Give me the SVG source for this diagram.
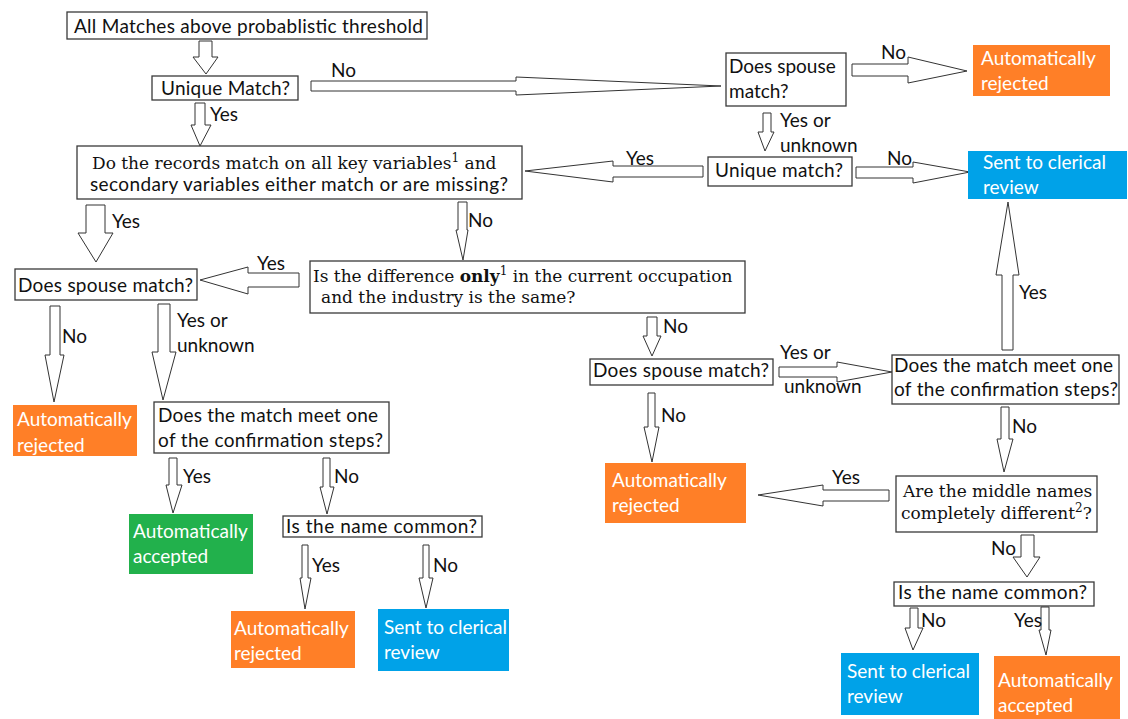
<svg xmlns="http://www.w3.org/2000/svg" width="1128" height="719" viewBox="0 0 1128 719">
<style>
.box{fill:#fff;stroke:#3a3a3a;stroke-width:1.3}
.or{fill:#FF7F27}
.gr{fill:#22B14C}
.bl{fill:#00A2E8}
.t{font-family:Lato,"Liberation Sans",sans-serif;font-size:19px;fill:#111}
.w{font-family:Lato,"Liberation Sans",sans-serif;font-size:19px;fill:#fff}
.s{font-family:"DejaVu Serif",serif;font-size:17px;fill:#111}
.ar{fill:#fff;stroke:#333;stroke-width:1;stroke-linejoin:miter}
.sup{font-size:12px}
</style>
<rect width="1128" height="719" fill="#fff"/>
<g id="connectors">
<polygon class="ar" points="199,41 212,41 212,57 218,57 206,74 193,57 199,57"/>
<polygon class="ar" points="311,81 516,81 516,77 721,86 516,95 516,91 311,91"/>
<polygon class="ar" points="195,103 205,103 205,125 211,125 200,146 191,125 195,125"/>
<polygon class="ar" points="852,64 908,64 908,57 967,71 908,83 908,76 852,76"/>
<polygon class="ar" points="763,113 771,113 771,132 774,132 765,151 758,132 763,132"/>
<polygon class="ar" points="856,167 913,167 913,162 970,172 913,183 913,178 856,178"/>
<polygon class="ar" points="703,166 613,166 613,161 525,171 613,182 613,177 703,177"/>
<polygon class="ar" points="86,205 105,205 105,233 113,233 96,262 78,233 86,233"/>
<polygon class="ar" points="458,202 467,202 467,230 468,230 463,260 456,230 458,230"/>
<polygon class="ar" points="299,273 248,273 248,267 200,280 248,294 248,287 299,287"/>
<polygon class="ar" points="50,306 60,306 60,355 64,355 54,402 45,355 50,355"/>
<polygon class="ar" points="158,304 170,304 170,352 176,352 163,400 152,352 158,352"/>
<polygon class="ar" points="169,458 177,458 177,485 182,485 173,513 166,485 169,485"/>
<polygon class="ar" points="323,458 330,458 330,487 334,487 327,514 320,487 323,487"/>
<polygon class="ar" points="302,545 308,545 308,578 311,578 305,609 300,578 302,578"/>
<polygon class="ar" points="423,545 429,545 429,578 433,578 426,608 419,578 423,578"/>
<polygon class="ar" points="647,317 657,317 657,336 661,336 652,356 643,336 647,336"/>
<polygon class="ar" points="779,367 837,367 837,362 892,372 837,382 837,377 779,377"/>
<polygon class="ar" points="648,393 655,393 655,427 659,427 652,462 644,427 648,427"/>
<polygon class="ar" points="1002,350 1013,350 1013,275 1019,275 1008,202 996,275 1002,275"/>
<polygon class="ar" points="1001,407 1009,407 1009,439 1013,439 1004,472 997,439 1001,439"/>
<polygon class="ar" points="889,490 823,490 823,485 758,495 823,506 823,501 889,501"/>
<polygon class="ar" points="1021,535 1034,535 1034,557 1040,557 1027,577 1013,557 1021,557"/>
<polygon class="ar" points="910,608 918,608 918,628 923,628 913,650 905,628 910,628"/>
<polygon class="ar" points="1041,607 1049,607 1049,630 1051,630 1046,655 1039,630 1041,630"/>
<text class="t" x="331" y="77">No</text>
<text class="t" x="210" y="121">Yes</text>
<text class="t" x="881" y="59">No</text>
<text class="t" x="780" y="127">Yes or</text>
<text class="t" x="780" y="152">unknown</text>
<text class="t" x="887" y="165">No</text>
<text class="t" x="626" y="165">Yes</text>
<text class="t" x="112" y="228">Yes</text>
<text class="t" x="468" y="227">No</text>
<text class="t" x="257" y="270">Yes</text>
<text class="t" x="62" y="343">No</text>
<text class="t" x="177" y="327">Yes or</text>
<text class="t" x="177" y="352">unknown</text>
<text class="t" x="183" y="483">Yes</text>
<text class="t" x="334" y="483">No</text>
<text class="t" x="312" y="572">Yes</text>
<text class="t" x="433" y="572">No</text>
<text class="t" x="663" y="333">No</text>
<text class="t" x="780" y="359">Yes or</text>
<text class="t" x="784" y="393">unknown</text>
<text class="t" x="661" y="422">No</text>
<text class="t" x="1019" y="299">Yes</text>
<text class="t" x="1012" y="433">No</text>
<text class="t" x="832" y="484">Yes</text>
<text class="t" x="991" y="555">No</text>
<text class="t" x="921" y="627">No</text>
<text class="t" x="1014" y="627">Yes</text>
</g>
<g id="n1"><rect class="box" x="67" y="12" width="360" height="27"/><text class="t" x="74" y="33" textLength="349">All Matches above probablistic threshold</text></g>
<g id="n2"><rect class="box" x="152" y="76" width="146" height="24"/><text class="t" x="161" y="95" textLength="129">Unique Match?</text></g>
<g id="n3"><rect class="box" x="726" y="53" width="120" height="53"/><text class="t" x="729" y="73">Does spouse</text><text class="t" x="729" y="98">match?</text></g>
<g id="n4"><rect class="or" x="973" y="45" width="137" height="51"/><text class="w" x="981" y="65">Automatically</text><text class="w" x="981" y="90">rejected</text></g>
<g id="n5"><rect class="box" x="708" y="157" width="144" height="29"/><text class="t" x="715" y="177" textLength="128">Unique match?</text></g>
<g id="n6"><rect class="bl" x="968" y="151" width="159" height="48"/><text class="w" x="983" y="169">Sent to clerical</text><text class="w" x="983" y="194">review</text></g>
<g id="n7"><rect class="box" x="77" y="146" width="445" height="53"/><text class="s" x="92" y="169">Do the records match on all key variables<tspan class="sup" dy="-7">1</tspan><tspan dy="7"> and</tspan></text><text class="t" x="90" y="191" textLength="418">secondary variables either match or are missing?</text></g>
<g id="n8"><rect class="box" x="15" y="269" width="182" height="31"/><text class="t" x="18" y="292" textLength="175">Does spouse match?</text></g>
<g id="n9"><rect class="box" x="310" y="261" width="435" height="52"/><text class="s" x="313" y="282">Is the difference <tspan font-weight="bold">only</tspan><tspan class="sup" dy="-7">1</tspan><tspan dy="7"> in the current occupation</tspan></text><text class="s" x="321" y="303">and the industry is the same?</text></g>
<g id="n10"><rect class="or" x="13" y="405" width="124" height="51"/><text class="w" x="17" y="426">Automatically</text><text class="w" x="17" y="452">rejected</text></g>
<g id="n11"><rect class="box" x="154" y="402" width="235" height="51"/><text class="t" x="158" y="422" textLength="220">Does the match meet one</text><text class="t" x="158" y="447" textLength="225">of the confirmation steps?</text></g>
<g id="n12"><rect class="gr" x="129" y="514" width="124" height="60"/><text class="w" x="133" y="538">Automatically</text><text class="w" x="133" y="563">accepted</text></g>
<g id="n13"><rect class="box" x="283" y="516" width="199" height="21"/><text class="t" x="286" y="533" textLength="191">Is the name common?</text></g>
<g id="n14"><rect class="or" x="231" y="611" width="124" height="57"/><text class="w" x="234" y="635">Automatically</text><text class="w" x="234" y="660">rejected</text></g>
<g id="n15"><rect class="bl" x="378" y="609" width="131" height="62"/><text class="w" x="384" y="634">Sent to clerical</text><text class="w" x="384" y="659">review</text></g>
<g id="n16"><rect class="box" x="590" y="359" width="183" height="26"/><text class="t" x="593" y="377" textLength="176">Does spouse match?</text></g>
<g id="n17"><rect class="or" x="605" y="463" width="141" height="60"/><text class="w" x="612" y="487">Automatically</text><text class="w" x="612" y="512">rejected</text></g>
<g id="n18"><rect class="box" x="892" y="355" width="227" height="49"/><text class="t" x="894" y="372" textLength="219">Does the match meet one</text><text class="t" x="894" y="396" textLength="224">of the confirmation steps?</text></g>
<g id="n19"><rect class="box" x="896" y="476" width="201" height="56"/><text class="s" x="903" y="497">Are the middle names</text><text class="s" x="901" y="519">completely different<tspan class="sup" dy="-7">2</tspan><tspan dy="7">?</tspan></text></g>
<g id="n20"><rect class="box" x="894" y="582" width="200" height="24"/><text class="t" x="898" y="599" textLength="189">Is the name common?</text></g>
<g id="n21"><rect class="bl" x="841" y="653" width="138" height="62"/><text class="w" x="847" y="678">Sent to clerical</text><text class="w" x="847" y="703">review</text></g>
<g id="n22"><rect class="or" x="994" y="656" width="126" height="63"/><text class="w" x="998" y="687">Automatically</text><text class="w" x="998" y="712">accepted</text></g>
</svg>
